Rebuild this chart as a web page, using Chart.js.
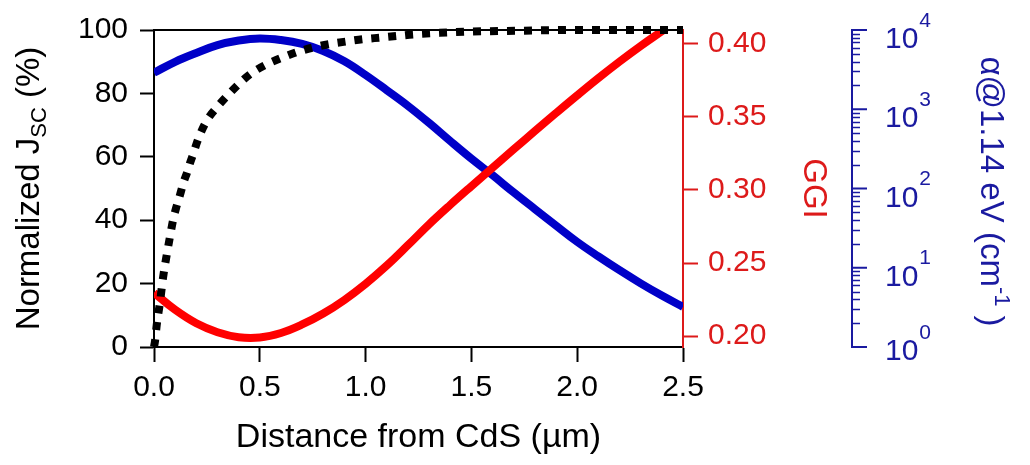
<!DOCTYPE html>
<html lang="en">
<head>
<meta charset="UTF-8">
<title>Jsc, GGI and absorption vs distance from CdS</title>
<script src="https://cdn.jsdelivr.net/npm/chart.js@4"></script>
<style>
  html, body { margin: 0; padding: 0; background: #fff; }
  #wrap { width: 1030px; height: 465px; }
</style>
</head>
<body>
<div id="wrap"><canvas id="chart"></canvas></div>
<script>
// Normalized Jsc (%), dotted black line, left axis
const jscDist = [0, 0.005, 0.013, 0.028, 0.043, 0.06, 0.076, 0.09, 0.105, 0.123, 0.14, 0.156, 0.17, 0.186, 0.203, 0.217,
  0.25, 0.296, 0.351, 0.406, 0.461, 0.525, 0.595, 0.674, 0.753, 0.832, 0.911, 0.989, 1.068, 1.147, 1.224, 1.35, 1.5, 1.75, 2.0, 2.25, 2.5];
const jscValues = [0, 2, 7, 14, 22, 29, 35, 40, 44, 48, 52, 55, 58, 61, 64.5, 67,
  71.5, 75.5, 79.6, 83.3, 86.4, 88.9, 91, 93, 94.5, 95.6, 96.4, 97.1, 97.6, 98.1, 98.6, 99.1, 99.5, 99.8, 100, 100, 100];

// GGI, red line, first right axis
const ggiDist = [0, 0.1, 0.2, 0.3, 0.4, 0.5, 0.6, 0.7, 0.8, 0.9, 1.0, 1.1, 1.2, 1.3, 1.4, 1.5, 1.6, 1.7, 1.8, 1.9, 2.0,
  2.1, 2.2, 2.3, 2.4, 2.42];
const ggiValues = [0.2297, 0.218, 0.2088, 0.2027, 0.1993, 0.1991, 0.2022, 0.208, 0.2155, 0.2248, 0.2358, 0.2483, 0.2622,
  0.2765, 0.2898, 0.3026, 0.3152, 0.3278, 0.3403, 0.3526, 0.3647, 0.3765, 0.3878, 0.3985, 0.4086, 0.4106];

// absorption coefficient at 1.14 eV (cm^-1), blue line, log axis
const alphaDist = [0, 0.1, 0.2, 0.3, 0.4, 0.5, 0.6, 0.7, 0.8, 0.9, 1.0, 1.1, 1.2, 1.3, 1.4, 1.5, 1.6, 1.7, 1.8, 1.9, 2.0,
  2.1, 2.2, 2.3, 2.4, 2.5];
const alphaValues = [2890, 3970, 5130, 6440, 7360, 7810, 7460, 6660, 5430, 4030, 2705, 1740, 1105, 672, 397, 238, 147,
  89.3, 55, 34, 21.2, 13.9, 9.3, 6.35, 4.45, 3.21];

// axes
const xTicks = [0, 0.5, 1.0, 1.5, 2.0, 2.5];
const jscTicks = [0, 20, 40, 60, 80, 100];
const ggiTicks = [0.20, 0.25, 0.30, 0.35, 0.40];
const alphaDecades = [1, 10, 100, 1000, 10000];
const alphaMinorSteps = [2, 3, 4, 5, 6, 7, 8, 9];

const BLACK = '#000000';
const RED_LINE = '#ff0000';
const RED_AXIS = '#dd1a1a';
const BLUE_LINE = '#0000c8';
const BLUE_AXIS = '#1a1aa0';
const FONT = 'Liberation Sans, Arial, sans-serif';

function pts(xs, ys) {
  return xs.map((x, i) => ({ x: x, y: ys[i] }));
}

function fixedWidth(w) {
  return scale => { scale.width = w; };
}

// text bits chart.js cannot do on its own: sub/superscripts, the log axis ticks, top frame
const extrasPlugin = {
  id: 'extras',
  afterDraw(chart) {
    const ctx = chart.ctx;
    const area = chart.chartArea;
    const yb = chart.scales.y2;
    ctx.save();

    // top frame
    ctx.strokeStyle = BLACK;
    ctx.lineWidth = 2;
    ctx.beginPath();
    ctx.moveTo(area.left - 1, area.top);
    ctx.lineTo(area.right, area.top);
    ctx.stroke();

    // log axis ticks
    ctx.strokeStyle = BLUE_AXIS;
    const x0 = yb.left;
    alphaDecades.forEach((d, i) => {
      const py = yb.getPixelForValue(d);
      ctx.lineWidth = 2;
      ctx.beginPath();
      ctx.moveTo(x0, py);
      ctx.lineTo(x0 + 15, py);
      ctx.stroke();
      if (i < alphaDecades.length - 1) {
        alphaMinorSteps.forEach(s => {
          const my = Math.round(yb.getPixelForValue(d * s)) + 0.5;
          ctx.lineWidth = 1.5;
          ctx.beginPath();
          ctx.moveTo(x0, my);
          ctx.lineTo(x0 + 8, my);
          ctx.stroke();
        });
      }
    });

    // log axis labels 10^n
    ctx.fillStyle = BLUE_AXIS;
    ctx.textBaseline = 'alphabetic';
    ctx.textAlign = 'left';
    alphaDecades.forEach((d, i) => {
      const py = yb.getPixelForValue(d);
      const shift = i === 0 ? -5 : 0;
      ctx.font = '30px ' + FONT;
      ctx.fillText('10', x0 + 33, py + 18 + shift);
      const w = ctx.measureText('10').width;
      ctx.font = '21px ' + FONT;
      ctx.fillText(String(i), x0 + 33 + w + 1, py - 3.5 + shift);
    });

    // left title: Normalized J_SC (%)
    ctx.fillStyle = BLACK;
    const leftParts = [
      { t: 'Normalized J', size: 33, dy: 0 },
      { t: 'SC', size: 22, dy: 7 },
      { t: ' (%)', size: 33, dy: 0 }
    ];
    drawRotated(ctx, leftParts, 39, (area.top + area.bottom) / 2, -Math.PI / 2);

    // blue title: α@1.14 eV (cm^-1)
    ctx.fillStyle = BLUE_AXIS;
    const rightParts = [
      { t: 'α@1.14 eV (cm', size: 33, dy: 0 },
      { t: '-1', size: 22, dy: -14 },
      { t: ' )', size: 33, dy: 0 }
    ];
    drawRotated(ctx, rightParts, 981, (area.top + area.bottom) / 2 + 3, Math.PI / 2);

    ctx.restore();
  }
};

function drawRotated(ctx, parts, cx, cy, angle) {
  let total = 0;
  parts.forEach(p => {
    ctx.font = p.size + 'px ' + FONT;
    p.w = ctx.measureText(p.t).width;
    total += p.w;
  });
  ctx.save();
  ctx.translate(cx, cy);
  ctx.rotate(angle);
  ctx.textAlign = 'left';
  ctx.textBaseline = 'alphabetic';
  let x = -total / 2;
  parts.forEach(p => {
    ctx.font = p.size + 'px ' + FONT;
    ctx.fillText(p.t, x, p.dy);
    x += p.w;
  });
  ctx.restore();
}

Chart.defaults.font.family = FONT;

new Chart(document.getElementById('chart'), {
  type: 'line',
  data: {
    datasets: [
      {
        label: 'Normalized Jsc',
        data: pts(jscDist, jscValues),
        yAxisID: 'y',
        borderColor: BLACK,
        borderWidth: 8,
        borderDash: [8, 9],
        borderCapStyle: 'butt',
        cubicInterpolationMode: 'monotone',
        pointRadius: 0,
        clip: 8
      },
      {
        label: 'GGI',
        data: pts(ggiDist, ggiValues),
        yAxisID: 'y1',
        borderColor: RED_LINE,
        borderWidth: 8,
        tension: 0.4,
        pointRadius: 0
      },
      {
        label: 'alpha',
        data: pts(alphaDist, alphaValues),
        yAxisID: 'y2',
        borderColor: BLUE_LINE,
        borderWidth: 8,
        tension: 0.4,
        pointRadius: 0
      }
    ]
  },
  options: {
    responsive: true,
    maintainAspectRatio: false,
    animation: false,
    layout: { padding: { top: 23, left: 0, right: 0, bottom: 0 } },
    plugins: { legend: { display: false }, tooltip: { enabled: false } },
    scales: {
      x: {
        type: 'linear',
        position: 'bottom',
        min: 0,
        max: 2.5,
        afterBuildTicks: scale => { scale.ticks = xTicks.map(v => ({ value: v })); },
        afterFit: scale => { scale.height = 118; },
        ticks: {
          color: BLACK,
          font: { size: 30 },
          padding: 8,
          maxRotation: 0,
          callback: v => v.toFixed(1)
        },
        grid: { drawOnChartArea: false, color: BLACK, tickLength: 15, tickWidth: 2 },
        border: { color: BLACK, width: 2 },
        title: {
          display: true,
          text: 'Distance from CdS (µm)',
          color: BLACK,
          font: { size: 34 },
          padding: { top: 0, bottom: 7 }
        }
      },
      y: {
        type: 'linear',
        position: 'left',
        min: 0,
        max: 100,
        afterBuildTicks: scale => { scale.ticks = jscTicks.map(v => ({ value: v })); },
        afterFit: fixedWidth(154),
        ticks: { color: BLACK, font: { size: 30 }, padding: 12 },
        grid: { drawOnChartArea: false, color: BLACK, tickLength: 14, tickWidth: 2 },
        border: { color: BLACK, width: 2 }
      },
      y1: {
        type: 'linear',
        position: 'right',
        min: 0.1926,
        max: 0.4094,
        afterBuildTicks: scale => { scale.ticks = ggiTicks.map(v => ({ value: v })); },
        afterFit: fixedWidth(169),
        ticks: { color: RED_AXIS, font: { size: 30 }, padding: 10, callback: v => v.toFixed(2) },
        grid: { drawOnChartArea: false, color: RED_AXIS, tickLength: 15, tickWidth: 2 },
        border: { color: RED_AXIS, width: 2 },
        title: {
          display: true,
          text: 'GGI',
          color: RED_AXIS,
          font: { size: 33 },
          padding: { top: 19, bottom: 0 }
        }
      },
      y2: {
        type: 'logarithmic',
        position: 'right',
        min: 1,
        max: 10000,
        afterFit: fixedWidth(178),
        ticks: { display: false },
        grid: { display: false },
        border: { display: true, color: BLUE_AXIS, width: 2 }
      }
    }
  },
  plugins: [extrasPlugin]
});
</script>
</body>
</html>
